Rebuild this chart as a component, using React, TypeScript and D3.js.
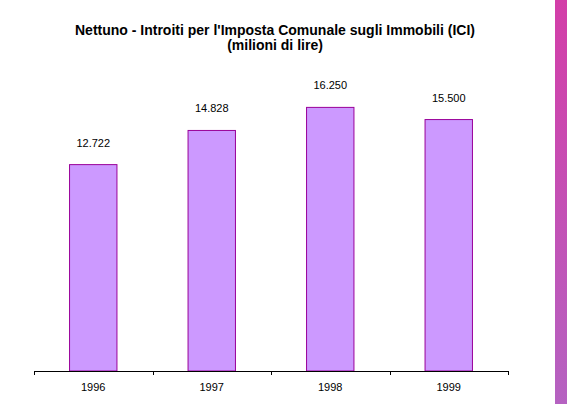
import React from 'react'
import * as d3 from 'd3'

const years = ['1996', '1997', '1998', '1999']
const values = [12722, 14828, 16250, 15500]
const valueLabels = ['12.722', '14.828', '16.250', '15.500']
const titleLines = ["Nettuno - Introiti per l'Imposta Comunale sugli Immobili (ICI)", '(milioni di lire)']

export default function App() {
  const width = 567
  const height = 406
  const margin = { left: 34, right: 59, top: 79, bottom: 34 }
  const baseY = height - margin.bottom - 1

  const x = d3.scaleBand<string>()
    .domain(years)
    .range([margin.left, width - margin.right])
    .paddingInner(0.6)
    .paddingOuter(0.3)

  const y = d3.scaleLinear()
    .domain([0, 18000])
    .range([baseY, margin.top])

  const step = x.step()
  const ticks = d3.range(years.length + 1).map(i => margin.left + i * step)

  return (
    <svg width={width} height={height}
      style={{ position: 'absolute', left: 0, top: 0, fontFamily: 'Liberation Sans, Arial, sans-serif' }}>
      <defs>
        <linearGradient id="strip" x1="0" y1="0" x2="0" y2="1">
          <stop offset="0" stopColor="#d33ea8" />
          <stop offset="1" stopColor="#b562c1" />
        </linearGradient>
      </defs>
      <rect x={0} y={0} width={width} height={height} fill="#fff" />
      <rect x={555} y={0} width={12} height={404} fill="url(#strip)" />

      {titleLines.map((t, i) => (
        <text key={i} x={275} y={35 + i * 15} textAnchor="middle" fontSize={14} fontWeight="bold" fill="#000">{t}</text>
      ))}

      {years.map((yr, i) => (
        <g key={yr}>
          <rect x={x(yr)} y={y(values[i])} width={x.bandwidth()} height={baseY - y(values[i])}
            fill="#cc99ff" stroke="#990099" strokeWidth={1} />
          <text x={x(yr)! + x.bandwidth() / 2} y={y(values[i]) - 18} textAnchor="middle" fontSize={11} fill="#000">{valueLabels[i]}</text>
          <text x={x(yr)! + x.bandwidth() / 2} y={391} textAnchor="middle" fontSize={11} fill="#000">{yr}</text>
        </g>
      ))}

      <line x1={margin.left} x2={width - margin.right} y1={baseY + 0.5} y2={baseY + 0.5} stroke="#000" />
      {ticks.map((t, i) => (
        <line key={i} x1={Math.round(t) + 0.5} x2={Math.round(t) + 0.5} y1={baseY} y2={baseY + 4} stroke="#000" />
      ))}
    </svg>
  )
}
